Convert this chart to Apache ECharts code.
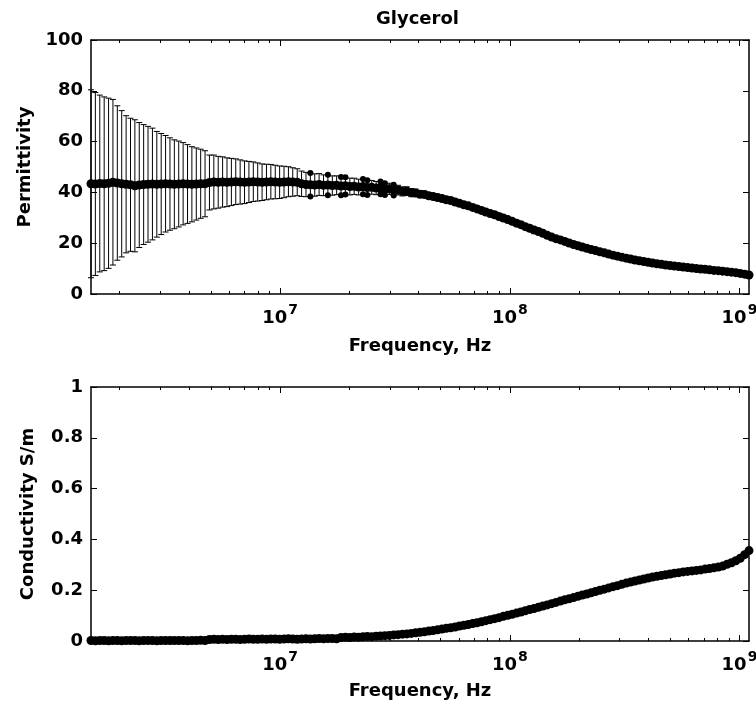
<!DOCTYPE html>
<html><head><meta charset="utf-8">
<script src="https://cdn.jsdelivr.net/npm/echarts@6/dist/echarts.min.js"></script>
<style>html,body{margin:0;padding:0;background:#fff}#c{width:756px;height:710px}</style>
</head><body><div id="c"></div><script>
// Frequencies of the sweep, MHz
const freqMHz = [1.500,1.567,1.638,1.712,1.789,1.869,1.953,2.041,2.133,2.229,
2.329,2.433,2.543,2.657,2.777,2.902,3.032,3.168,3.311,3.460,
3.615,3.778,3.948,4.125,4.311,4.505,4.707,4.919,5.140,5.371,
5.613,5.865,6.129,6.404,6.692,6.993,7.308,7.636,7.980,8.338,
8.713,9.105,9.515,9.943,10.39,10.86,11.34,11.86,12.39,12.95,
13.53,14.14,14.77,15.44,16.13,16.86,17.61,18.40,19.23,20.10,
21.00,21.95,22.93,23.96,25.04,26.17,27.34,28.57,29.86,31.20,
32.60,34.07,35.60,37.20,38.87,40.62,42.45,44.36,46.35,48.44,
50.62,52.89,55.27,57.76,60.35,63.07,65.90,68.87,71.96,75.20,
78.58,82.11,85.81,89.66,93.70,97.91,102.3,106.9,111.7,116.7,
122.0,127.5,133.2,139.2,145.5,152.0,158.8,166.0,173.4,181.2,
189.4,197.9,206.8,216.1,225.8,236.0,246.6,257.7,269.3,281.4,
294.0,307.2,321.1,335.5,350.6,366.3,382.8,400.0,418.0,436.8,
456.5,477.0,498.4,520.9,544.3,568.7,594.3,621.0,649.0,678.2,
708.6,740.5,773.8,808.6,845.0,883.0,922.7,964.2,1007.5,1052.8,
1100.0];

const permittivity = [43.4,43.3,43.5,43.4,43.6,44.0,43.7,43.4,43.2,43.0,
42.6,42.9,43.1,43.2,43.3,43.2,43.3,43.4,43.3,43.2,
43.3,43.4,43.3,43.2,43.3,43.4,43.4,43.9,44.1,44.0,
44.1,44.0,44.1,44.2,44.1,44.0,44.1,44.2,44.1,44.0,
44.1,44.2,44.1,44.0,44.1,44.2,44.1,44.0,43.4,43.1,
43.0,42.9,43.1,42.8,42.9,42.7,42.8,42.5,42.6,42.3,
42.4,42.1,42.3,41.9,42.0,41.7,41.8,41.3,41.4,40.9,
40.9,40.4,40.5,39.9,39.8,39.3,39.2,38.7,38.4,38.0,
37.6,37.1,36.8,36.2,35.7,35.1,34.7,34.1,33.5,32.9,
32.3,31.7,31.2,30.5,29.9,29.3,28.6,27.9,27.3,26.5,
25.9,25.2,24.6,23.9,23.1,22.4,21.8,21.3,20.7,20.1,
19.5,19.0,18.5,18.0,17.5,17.1,16.6,16.2,15.7,15.3,
14.9,14.5,14.1,13.8,13.4,13.1,12.8,12.5,12.2,11.9,
11.7,11.4,11.2,11.0,10.8,10.6,10.4,10.2,10.0,9.8,
9.7,9.5,9.3,9.2,9.0,8.8,8.6,8.4,8.1,7.8,
7.5];

// Half-width of the permittivity error bars
const permError = [37.0,36.0,34.8,34.2,33.5,32.6,30.4,28.8,27.0,26.2,
26.0,24.6,23.6,22.8,22.0,20.8,19.9,19.0,18.2,17.5,
16.9,16.2,15.5,14.8,14.2,13.6,13.0,10.8,10.6,10.2,
9.9,9.6,9.3,9.0,8.7,8.4,8.1,7.8,7.5,7.2,
7.0,6.8,6.6,6.4,6.2,5.9,5.6,5.3,5.0,4.8,
4.6,4.4,4.3,4.1,4.0,3.8,3.7,3.6,3.4,3.3,
3.2,3.1,3.0,2.9,2.7,2.6,2.5,2.3,2.2,2.1,
1.9,1.8,1.7,1.6,1.5,1.4,1.3,1.2,1.1,1.0,
0.9,0.9,0.8,0.8,0.8,0.7,0.7,0.7,0.6,0.6,
0.6,0.6,0.5,0.5,0.5,0.5,0.5,0.4,0.4,0.4,
0.4,0.4,0.4,0.4,0.3,0.3,0.3,0.3,0.3,0.3,
0.3,0.3,0.3,0.3,0.3,0.3,0.3,0.3,0.3,0.3,
0.3,0.3,0.3,0.3,0.3,0.3,0.3,0.3,0.3,0.3,
0.3,0.3,0.3,0.3,0.3,0.3,0.3,0.3,0.3,0.3,
0.3,0.3,0.3,0.3,0.3,0.3,0.3,0.3,0.3,0.3,
0.3];

// Points whose error-bar ends show a dot
const endDotIdx = [50,54,57,58,62,63,66,67,69];

const conductivity = [0.002,0.001,0.002,0.002,0.001,0.002,0.002,0.001,0.002,0.002,
0.002,0.001,0.002,0.002,0.002,0.001,0.002,0.002,0.002,0.002,
0.002,0.002,0.001,0.002,0.002,0.003,0.002,0.006,0.007,0.006,
0.007,0.006,0.007,0.007,0.006,0.007,0.008,0.007,0.007,0.008,
0.007,0.008,0.008,0.007,0.008,0.009,0.008,0.007,0.008,0.009,
0.008,0.009,0.010,0.009,0.010,0.010,0.009,0.014,0.015,0.014,
0.016,0.015,0.017,0.018,0.017,0.019,0.020,0.021,0.022,0.024,
0.025,0.027,0.028,0.030,0.032,0.034,0.036,0.039,0.041,0.044,
0.047,0.050,0.052,0.055,0.059,0.062,0.065,0.069,0.072,0.076,
0.080,0.084,0.088,0.092,0.097,0.101,0.105,0.110,0.114,0.119,
0.124,0.128,0.133,0.138,0.142,0.147,0.152,0.157,0.162,0.166,
0.171,0.176,0.181,0.185,0.190,0.195,0.200,0.204,0.209,0.214,
0.218,0.223,0.228,0.232,0.236,0.240,0.244,0.248,0.252,0.255,
0.258,0.261,0.264,0.267,0.269,0.272,0.274,0.276,0.278,0.280,
0.283,0.285,0.288,0.291,0.295,0.302,0.308,0.316,0.326,0.340,
0.356];

const majorTicks = [1e7, 1e8, 1e9];
const minorTicks = [2e6,3e6,4e6,5e6,6e6,7e6,8e6,9e6,2e7,3e7,4e7,5e7,6e7,7e7,8e7,9e7,2e8,3e8,4e8,5e8,6e8,7e8,8e8,9e8];
const permTicks = [0, 20, 40, 60, 80, 100];
const condTicks = [0, 0.2, 0.4, 0.6, 0.8, 1];
const xMin = 1.5e6, xMax = 1.1e9;

const FONT = 'DejaVu Sans';
const freqHz = freqMHz.map(f => f * 1e6);

function xAxes(grid, withName) {
  const base = {type: 'log', logBase: 10, min: xMin, max: xMax, gridIndex: grid, splitLine: {show: false}};
  const line = {show: true, onZero: false, lineStyle: {color: '#000', width: 1.5}};
  return [
    Object.assign({}, base, {
      position: 'bottom',
      axisLine: line,
      axisTick: {show: true, inside: true, length: 6, customValues: majorTicks, lineStyle: {color: '#000', width: 1}},
      axisLabel: {show: true, customValues: majorTicks, margin: 9,
        formatter: v => '{b|10}{s|' + Math.round(Math.log10(v)) + '}',
        rich: {
          b: {fontFamily: FONT, fontWeight: 'bold', fontSize: 18, color: '#000', verticalAlign: 'bottom'},
          s: {fontFamily: FONT, fontWeight: 'bold', fontSize: 14, color: '#000', verticalAlign: 'bottom', padding: [0, 0, 10, 1]}
        }},
      name: 'Frequency, Hz', nameLocation: 'middle', nameGap: withName,
      nameTextStyle: {fontFamily: FONT, fontWeight: 'bold', fontSize: 18, color: '#000'}
    }),
    Object.assign({}, base, {
      position: 'bottom',
      axisLine: {show: false, onZero: false},
      axisTick: {show: true, inside: true, length: 3, customValues: minorTicks, lineStyle: {color: '#000', width: 1}},
      axisLabel: {show: false}
    }),
    Object.assign({}, base, {
      position: 'top',
      axisLine: line,
      axisTick: {show: true, inside: true, length: 6, customValues: majorTicks, lineStyle: {color: '#000', width: 1}},
      axisLabel: {show: false}
    }),
    Object.assign({}, base, {
      position: 'top',
      axisLine: {show: false, onZero: false},
      axisTick: {show: true, inside: true, length: 3, customValues: minorTicks, lineStyle: {color: '#000', width: 1}},
      axisLabel: {show: false}
    })
  ];
}

function yAxes(grid, min, max, interval, name, gap) {
  const base = {type: 'value', min: min, max: max, interval: interval, gridIndex: grid, splitLine: {show: false},
    axisLine: {show: true, onZero: false, lineStyle: {color: '#000', width: 1.5}},
    axisTick: {show: true, inside: true, length: 6, lineStyle: {color: '#000', width: 1}}};
  return [
    Object.assign({}, base, {
      position: 'left',
      axisLabel: {show: true, margin: 8, fontFamily: FONT, fontWeight: 'bold', fontSize: 18, color: '#000'},
      name: name, nameLocation: 'middle', nameGap: gap, nameRotate: 90,
      nameTextStyle: {fontFamily: FONT, fontWeight: 'bold', fontSize: 18, color: '#000'}
    }),
    Object.assign({}, base, {position: 'right', axisLabel: {show: false}})
  ];
}

const permPoints = freqHz.map((f, i) => [f, permittivity[i]]);
const condPoints = freqHz.map((f, i) => [f, conductivity[i]]);
const errPoints = freqHz.map((f, i) => [f, permittivity[i] - permError[i], permittivity[i] + permError[i], endDotIdx.indexOf(i) >= 0 ? 1 : 0]);

const option = {
  animation: false,
  backgroundColor: '#fff',
  textStyle: {fontFamily: FONT},
  title: {text: 'Glycerol', left: 371, top: 5,
    textStyle: {fontFamily: FONT, fontWeight: 'bold', fontSize: 18, color: '#000'}},
  grid: [
    {left: 91, top: 40, width: 658, height: 254, outerBoundsMode: 'none', containLabel: false},
    {left: 91, top: 387, width: 658, height: 254, outerBoundsMode: 'none', containLabel: false}
  ],
  xAxis: xAxes(0, 43).concat(xAxes(1, 41)),
  yAxis: yAxes(0, permTicks[0], permTicks[permTicks.length - 1], 20, 'Permittivity', 54)
    .concat(yAxes(1, condTicks[0], condTicks[condTicks.length - 1], 0.2, 'Conductivity S/m', 54)),
  series: [
    {
      type: 'custom', xAxisIndex: 0, yAxisIndex: 0, z: 1,
      data: errPoints,
      encode: {x: 0, y: [1, 2]},
      renderItem: function (params, api) {
        const x = api.value(0);
        const pHi = api.coord([x, api.value(2)]);
        const pLo = api.coord([x, api.value(1)]);
        const cw = 3;
        const st = {stroke: '#000', lineWidth: 1};
        const children = [
          {type: 'line', shape: {x1: pHi[0], y1: pHi[1], x2: pLo[0], y2: pLo[1]}, style: st},
          {type: 'line', shape: {x1: pHi[0] - cw, y1: pHi[1], x2: pHi[0] + cw, y2: pHi[1]}, style: st},
          {type: 'line', shape: {x1: pLo[0] - cw, y1: pLo[1], x2: pLo[0] + cw, y2: pLo[1]}, style: st}
        ];
        if (api.value(3)) {
          children.push({type: 'circle', shape: {cx: pHi[0], cy: pHi[1], r: 3}, style: {fill: '#000'}});
          children.push({type: 'circle', shape: {cx: pLo[0], cy: pLo[1], r: 3}, style: {fill: '#000'}});
        }
        return {type: 'group', children: children};
      }
    },
    {
      type: 'scatter', xAxisIndex: 0, yAxisIndex: 0, z: 3,
      data: permPoints, symbol: 'circle', symbolSize: 9,
      itemStyle: {color: '#000', opacity: 1}
    },
    {
      type: 'scatter', xAxisIndex: 4, yAxisIndex: 2, z: 3,
      data: condPoints, symbol: 'circle', symbolSize: 9,
      itemStyle: {color: '#000', opacity: 1}
    }
  ]
};

const chart = echarts.init(document.getElementById('c'), null, {renderer: 'canvas'});
chart.setOption(option);
</script></body></html>
